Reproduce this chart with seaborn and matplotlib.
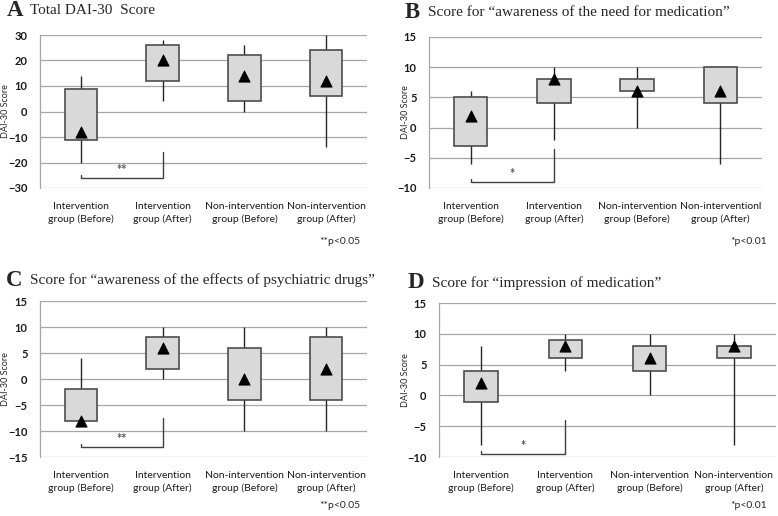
import matplotlib
matplotlib.use('Agg')
import matplotlib.pyplot as plt
import seaborn as sns
import pandas as pd

# grupos (eje x)
groups_a = ['Intervention\ngroup (Before)', 'Intervention\ngroup (After)',
            'Non-intervention\ngroup (Before)', 'Non-intervention\ngroup (After)']
groups_b = ['Intervention\ngroup (Before)', 'Intervention\ngroup (After)',
            'Non-intervention\ngroup (Before)', 'Non-interventionl\ngroup (After)']

# A Total DAI-30
a_low = [-20, 4, 0, -14]
a_q1 = [-11, 12, 4, 6]
a_q3 = [9, 26, 22, 24]
a_high = [14, 28, 26, 30]
a_mean = [-8, 20, 14, 12]

# B awareness of the need for medication
b_low = [-6, -2, 0, -6]
b_q1 = [-3, 4, 6, 4]
b_q3 = [5, 8, 8, 10]
b_high = [6, 10, 10, 10]
b_mean = [2, 8, 6, 6]

# C awareness of the effects of psychiatric drugs
c_low = [-8, 0, -10, -10]
c_q1 = [-8, 2, -4, -4]
c_q3 = [-2, 8, 6, 8]
c_high = [4, 10, 10, 10]
c_mean = [-8, 6, 0, 2]

# D impression of medication
d_low = [-8, 4, 0, -8]
d_q1 = [-1, 6, 4, 6]
d_q3 = [4, 9, 8, 8]
d_high = [8, 10, 10, 10]
d_mean = [2, 8, 6, 8]

sns.set_style('white')
plt.rcParams['font.family'] = ['Lato', 'DejaVu Sans']

fig = plt.figure(figsize=(7.78, 5.16), dpi=100)
W, H = 778, 516


def px_axes(l, r, t, b):
    return fig.add_axes([l / W, 1 - b / H, (r - l) / W, (b - t) / H])


def panel(ax, groups, low, q1, q3, high, mean, ylim, step, bracket, stars, label_x):
    df = pd.DataFrame({'group': groups, 'low': low, 'q1': q1, 'q3': q3,
                       'high': high, 'mean': mean})
    x = list(range(len(groups)))
    ax.set_xlim(-0.5, len(groups) - 0.5)
    ax.set_ylim(*ylim)
    ax.set_yticks(range(ylim[0], ylim[1] + 1, step))
    for y in range(ylim[0], ylim[1] + 1, step):
        ax.axhline(y, color='#a6a6a6', lw=0.9, zorder=0)
    ax.vlines(x, df['low'], df['high'], color='#262626', lw=1.0, zorder=1)
    ax.bar(x, df['q3'] - df['q1'], bottom=df['q1'], width=0.4,
           color='#d9d9d9', edgecolor='#4d4d4d', linewidth=1.2, zorder=2)
    sns.scatterplot(x=x, y=df['mean'], marker='^', s=65, color='black',
                    edgecolor='black', zorder=3, ax=ax, legend=False)
    # bracket de significancia
    yb, ytop, yl = bracket
    ax.plot([0, 0, 1, 1], [yl, yb, yb, ytop], color='#404040', lw=1.0, zorder=1)
    ax.text(0.5, yb + (ylim[1] - ylim[0]) * 0.012, stars, ha='center', va='bottom',
            fontsize=9, color='#595959', fontweight='bold')
    ax.set_xticks(x)
    ax.set_xticklabels(groups, fontsize=7.5, color='#1a1a1a', linespacing=1.5)
    ax.tick_params(axis='y', labelsize=8, colors='#a6a6a6', length=4, width=0.9,
                   labelcolor='#1a1a1a', pad=5)
    ax.tick_params(axis='x', length=0, pad=10)
    for lbl in ax.get_yticklabels():
        lbl.set_fontweight('bold')
    for s in ['top', 'right', 'bottom']:
        ax.spines[s].set_visible(False)
    ax.spines['left'].set_color('#a6a6a6')
    ax.spines['left'].set_linewidth(0.9)
    ax.set_ylabel('DAI-30 Score', fontsize=6.5, va='center')
    ax.yaxis.set_label_coords(label_x, 0.5)
    ax.patch.set_alpha(0)


ax1 = px_axes(40, 367, 35, 188)
panel(ax1, groups_a, a_low, a_q1, a_q3, a_high, a_mean, (-30, 30), 10,
      (-26, -16, -25), '**', (6 - 40) / 327)
ax2 = px_axes(429, 762, 37, 188)
panel(ax2, groups_b, b_low, b_q1, b_q3, b_high, b_mean, (-10, 15), 5,
      (-9, -3.5, -8.5), '*', (406 - 429) / 333)
ax3 = px_axes(40, 367, 301, 457)
panel(ax3, groups_a, c_low, c_q1, c_q3, c_high, c_mean, (-15, 15), 5,
      (-13, -7.5, -12.5), '**', (6 - 40) / 327)
ax4 = px_axes(439, 776, 303, 457)
panel(ax4, groups_a, d_low, d_q1, d_q3, d_high, d_mean, (-10, 15), 5,
      (-9.5, -4, -9), '*', (406 - 439) / 337)

serif = ['Liberation Serif', 'DejaVu Serif']
titles = [(7, 30, 11, 'A', 'Total DAI-30  Score'),
          (405, 428, 13, 'B', 'Score for \u201cawareness of the need for medication\u201d'),
          (6, 30, 280, 'C', 'Score for \u201cawareness of the effects of psychiatric drugs\u201d'),
          (408, 432, 283, 'D', 'Score for \u201cimpression of medication\u201d')]
for lx, tx, ty, letter, txt in titles:
    fig.text(lx / W, 1 - ty / H, letter, fontsize=16.5, fontweight='bold',
             family=serif, va='center', ha='left')
    fig.text(tx / W, 1 - ty / H, txt, fontsize=11, family=serif,
             va='center', ha='left')

notes = [(360, 242, '**p<0.05'), (767, 242, '*p<0.01'),
         (360, 506, '**p<0.05'), (767, 506, '*p<0.01')]
for nx, ny, txt in notes:
    fig.text(nx / W, 1 - ny / H, txt, fontsize=7.5, ha='right', va='center')

fig.savefig('out.png', dpi=100)
